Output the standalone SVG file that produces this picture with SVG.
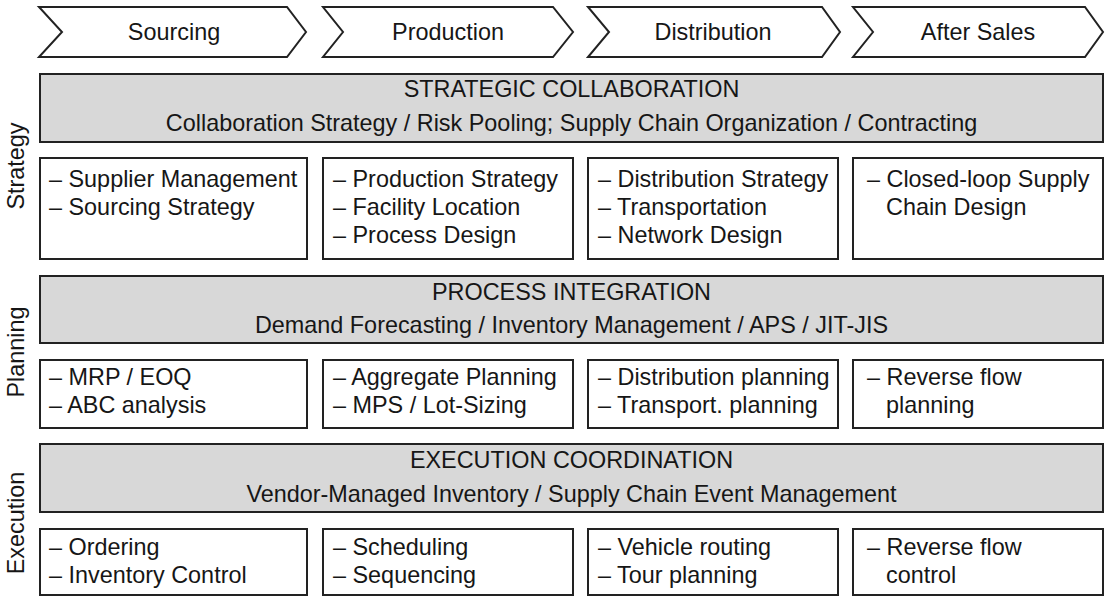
<svg xmlns="http://www.w3.org/2000/svg" width="1105" height="597" viewBox="0 0 1105 597">
  <style>
    .bg { fill: #ffffff; }
    .chev { fill: #ffffff; stroke: #222222; stroke-width: 2; stroke-linejoin: miter; }
    .band { fill: #d8d8d8; stroke: #222222; stroke-width: 2; }
    .box { fill: #ffffff; stroke: #222222; stroke-width: 2; }
    text { font-family: "Liberation Sans", Arial, Helvetica, sans-serif; font-size: 23.4px; fill: #161616; }
    .c { text-anchor: middle; }
  </style>
  <rect class="bg" x="0" y="0" width="1105" height="597"/>

  <!-- Value chain phases -->
  <g id="phase-sourcing">
    <path class="chev" d="M39,7 L287,7 L306,32 L287,57 L39,57 L62,32 Z"/>
    <text class="c" x="174" y="40">Sourcing</text>
  </g>
  <g id="phase-production">
    <path class="chev" d="M323,7 L553,7 L573,32 L553,57 L323,57 L343,32 Z"/>
    <text class="c" x="448" y="40">Production</text>
  </g>
  <g id="phase-distribution">
    <path class="chev" d="M588,7 L822,7 L840,32 L822,57 L588,57 L609,32 Z"/>
    <text class="c" x="713" y="40">Distribution</text>
  </g>
  <g id="phase-aftersales">
    <path class="chev" d="M853,7 L1085,7 L1103,32 L1085,57 L853,57 L873,32 Z"/>
    <text class="c" x="978" y="40">After Sales</text>
  </g>

  <!-- Level labels -->
  <g id="label-strategy">
    <text class="c" transform="translate(24,166) rotate(-90)">Strategy</text>
  </g>
  <g id="label-planning">
    <text class="c" transform="translate(24,352) rotate(-90)">Planning</text>
  </g>
  <g id="label-execution">
    <text class="c" transform="translate(24,523) rotate(-90)">Execution</text>
  </g>

  <!-- Strategy level -->
  <g id="band-strategic-collaboration">
    <rect class="band" x="40" y="74" width="1063" height="68"/>
    <text class="c" x="571.5" y="97">STRATEGIC COLLABORATION</text>
    <text class="c" x="571.5" y="131">Collaboration Strategy / Risk Pooling; Supply Chain Organization / Contracting</text>
  </g>
  <g id="strategy-sourcing">
    <rect class="box" x="40" y="158" width="267" height="101"/>
    <text x="49" y="187">– Supplier Management</text>
    <text x="49" y="215">– Sourcing Strategy</text>
  </g>
  <g id="strategy-production">
    <rect class="box" x="323" y="158" width="250" height="101"/>
    <text x="333" y="187">– Production Strategy</text>
    <text x="333" y="215">– Facility Location</text>
    <text x="333" y="243">– Process Design</text>
  </g>
  <g id="strategy-distribution">
    <rect class="box" x="588" y="158" width="250" height="101"/>
    <text x="598" y="187">– Distribution Strategy</text>
    <text x="598" y="215">– Transportation</text>
    <text x="598" y="243">– Network Design</text>
  </g>
  <g id="strategy-aftersales">
    <rect class="box" x="853" y="158" width="250" height="101"/>
    <text x="867" y="187">– Closed-loop Supply</text>
    <text x="886" y="215">Chain Design</text>
  </g>

  <!-- Planning level -->
  <g id="band-process-integration">
    <rect class="band" x="40" y="276" width="1063" height="67"/>
    <text class="c" x="571.5" y="300">PROCESS INTEGRATION</text>
    <text class="c" x="571.5" y="333">Demand Forecasting / Inventory Management / APS / JIT-JIS</text>
  </g>
  <g id="planning-sourcing">
    <rect class="box" x="40" y="360" width="267" height="68"/>
    <text x="49" y="385">– MRP / EOQ</text>
    <text x="49" y="413">– ABC analysis</text>
  </g>
  <g id="planning-production">
    <rect class="box" x="323" y="360" width="250" height="68"/>
    <text x="333" y="385">– Aggregate Planning</text>
    <text x="333" y="413">– MPS / Lot-Sizing</text>
  </g>
  <g id="planning-distribution">
    <rect class="box" x="588" y="360" width="250" height="68"/>
    <text x="598" y="385">– Distribution planning</text>
    <text x="598" y="413">– Transport. planning</text>
  </g>
  <g id="planning-aftersales">
    <rect class="box" x="853" y="360" width="250" height="68"/>
    <text x="867" y="385">– Reverse flow</text>
    <text x="886" y="413">planning</text>
  </g>

  <!-- Execution level -->
  <g id="band-execution-coordination">
    <rect class="band" x="40" y="444" width="1063" height="68"/>
    <text class="c" x="571.5" y="468">EXECUTION COORDINATION</text>
    <text class="c" x="571.5" y="502">Vendor-Managed Inventory / Supply Chain Event Management</text>
  </g>
  <g id="execution-sourcing">
    <rect class="box" x="40" y="529" width="267" height="66"/>
    <text x="49" y="555">– Ordering</text>
    <text x="49" y="583">– Inventory Control</text>
  </g>
  <g id="execution-production">
    <rect class="box" x="323" y="529" width="250" height="66"/>
    <text x="333" y="555">– Scheduling</text>
    <text x="333" y="583">– Sequencing</text>
  </g>
  <g id="execution-distribution">
    <rect class="box" x="588" y="529" width="250" height="66"/>
    <text x="598" y="555">– Vehicle routing</text>
    <text x="598" y="583">– Tour planning</text>
  </g>
  <g id="execution-aftersales">
    <rect class="box" x="853" y="529" width="250" height="66"/>
    <text x="867" y="555">– Reverse flow</text>
    <text x="886" y="583">control</text>
  </g>
</svg>
